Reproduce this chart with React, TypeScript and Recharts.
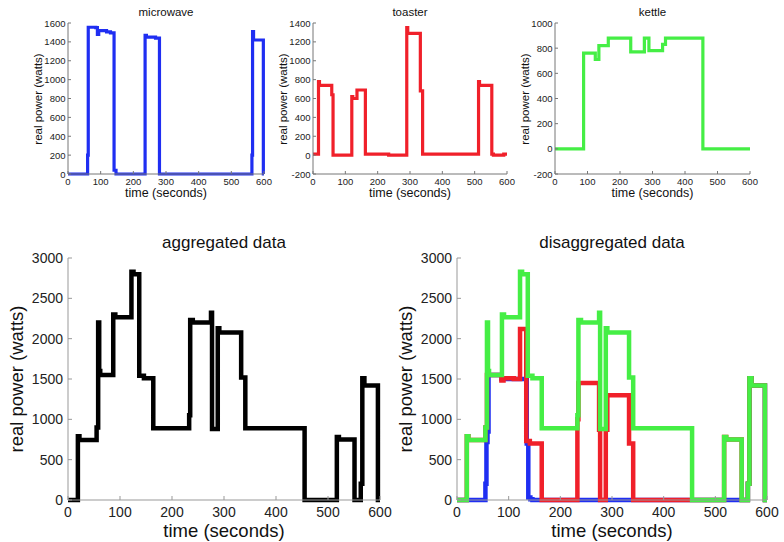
import React from "react";
import { LineChart, Line, XAxis, YAxis } from "recharts";

const timeTicks = [0, 100, 200, 300, 400, 500, 600];

// microwave (top left)
const mwT = [0, 60, 62, 85, 90, 94, 118, 130, 141, 147, 236, 240, 268, 280, 563, 565, 568, 598, 600];
const mwP = [0, 200, 1555, 1550, 1480, 1520, 1505, 1495, 40, 0, 1470, 1450, 1440, 0, 200, 1510, 1420, 0, 0];
const mwTicks = [0, 200, 400, 600, 800, 1000, 1200, 1400, 1600];

// toaster (top middle)
const tsT = [0, 17, 20, 58, 62, 120, 123, 136, 162, 234, 290, 293, 332, 339, 512, 515, 553, 558, 590, 600];
const tsP = [10, 780, 740, 640, 0, 620, 600, 690, 10, 0, 1350, 1290, 680, 10, 780, 740, 10, 0, 10, 10];
const tsTicks = [-200, 0, 200, 400, 600, 800, 1000, 1200, 1400];

// kettle (top right)
const ktT = [0, 88, 124, 135, 164, 233, 275, 289, 331, 340, 455, 600];
const ktP = [0, 760, 710, 820, 880, 770, 880, 780, 830, 880, 0, 0];
const ktTicks = [-200, 0, 200, 400, 600, 800, 1000];

// aggregated total (bottom)
const totT = [0, 19, 22, 55, 58, 60, 62, 87, 91, 122, 126, 137, 146, 164, 233, 235, 240, 275, 277, 288, 291, 333, 341, 455, 517, 521, 551, 563, 566, 570, 596, 600];
const totP = [0, 790, 745, 900, 2200, 1600, 1550, 2300, 2265, 2830, 2800, 1540, 1510, 890, 1050, 2230, 2200, 2320, 880, 2130, 2075, 1520, 890, 0, 780, 750, 0, 200, 1510, 1420, 0, 0];

// disaggregated layers
const blueT = [0, 55, 57, 59, 61, 86, 135, 138, 142, 146, 563, 566, 570, 596, 600];
const blueP = [0, 200, 720, 850, 1550, 1500, 700, 30, 10, 0, 200, 1510, 1420, 0, 0];
const redT = [0, 19, 22, 55, 58, 86, 90, 110, 122, 134, 141, 164, 233, 235, 275, 277, 288, 291, 333, 341, 517, 521, 551, 563, 566, 570, 596, 600];
const redP = [0, 790, 745, 900, 1550, 1480, 1510, 1500, 2120, 730, 700, 0, 1000, 1450, 870, 0, 870, 1300, 700, 0, 780, 750, 0, 200, 1510, 1420, 0, 0];

const bigTicks = [0, 500, 1000, 1500, 2000, 2500, 3000];

const pts = (t: number[], p: number[]) => t.map((v, i) => ({ t: v, p: p[i] }));

const BLUE = "#1f2ef2";
const RED = "#f0202a";
const GREEN = "#45ee45";

const FONT = '"Liberation Sans", Arial, Helvetica, sans-serif';

type Style = {
  tick: number; tickOff: number; yGap: number; tickLen: number;
  title: number; titleY: number; xlab: number; xlabY: number;
  ylab: number; ylabDx: number; stroke: number; axis: string;
};

const small: Style = {
  tick: 9.5, tickOff: 7.5, yGap: 2.5, tickLen: 3,
  title: 11.5, titleY: 12.7, xlab: 12.5, xlabY: 193,
  ylab: 11.5, ylabDx: 29.5, stroke: 3.2, axis: "#777",
};
const big: Style = {
  tick: 14, tickOff: 12, yGap: 5, tickLen: 4,
  title: 17, titleY: 242, xlab: 18.5, xlabY: 530.5,
  ylab: 18.5, ylabDx: 51, stroke: 4.5, axis: "#999",
};

type Series = { data: { t: number; p: number }[]; color: string };

type PanelProps = {
  x: number; y: number; w: number; h: number;
  yDomain: [number, number]; yTicks: number[];
  series: Series[]; title: string; s: Style; box?: boolean;
};

const Panel = ({ x, y, w, h, yDomain, yTicks, series, title, s, box }: PanelProps) => {
  const PL = 50, PR = 18, PT = 8, PB = 30;

  const xTick = (props: any) => (
    <g>
      <line x1={props.x} x2={props.x} y1={props.y} y2={props.y - s.tickLen} stroke={s.axis} />
      <text x={props.x} y={props.y + s.tickOff} textAnchor="middle" dominantBaseline="central" fontSize={s.tick} fill="#222">
        {props.payload.value}
      </text>
    </g>
  );
  const yTick = (props: any) => (
    <g>
      <line x1={props.x} x2={props.x + s.tickLen} y1={props.y} y2={props.y} stroke={s.axis} />
      <text x={props.x - s.yGap} y={props.y} textAnchor="end" dominantBaseline="central" fontSize={s.tick} fill="#222">
        {props.payload.value}
      </text>
    </g>
  );
  const topTick = (props: any) => (
    <line x1={props.x} x2={props.x} y1={props.y} y2={props.y + s.tickLen} stroke={s.axis} />
  );
  const rightTick = (props: any) => (
    <line x1={props.x} x2={props.x - s.tickLen} y1={props.y} y2={props.y} stroke={s.axis} />
  );

  return (
    <>
      <div style={{ position: "absolute", left: x - PL, top: y - PT }}>
        <LineChart width={w + PL + PR} height={h + PT + PB} margin={{ top: PT, right: PR, left: 0, bottom: 0 }}>
          <XAxis dataKey="t" type="number" domain={[0, 600]} ticks={timeTicks} interval={0}
            height={PB} tickLine={false} tickSize={0} tickMargin={0} tick={xTick} axisLine={{ stroke: s.axis }} />
          <YAxis type="number" domain={yDomain} ticks={yTicks} interval={0}
            width={PL} tickLine={false} tickSize={0} tickMargin={0} tick={yTick} axisLine={{ stroke: s.axis }} />
          {box && (
            <XAxis xAxisId="top" orientation="top" dataKey="t" type="number" domain={[0, 600]} ticks={timeTicks}
              interval={0} height={0} tickLine={false} tickSize={0} tickMargin={0} tick={topTick} axisLine={{ stroke: s.axis }} />
          )}
          {box && (
            <YAxis yAxisId="right" orientation="right" type="number" domain={yDomain} ticks={yTicks}
              interval={0} width={0} tickLine={false} tickSize={0} tickMargin={0} tick={rightTick} axisLine={{ stroke: s.axis }} />
          )}
          {series.map((sr, i) => (
            <Line key={i} data={sr.data} dataKey="p" type="stepAfter" stroke={sr.color} strokeWidth={s.stroke}
              dot={false} activeDot={false} isAnimationActive={false} />
          ))}
        </LineChart>
      </div>
      <div style={{ position: "absolute", left: x + w / 2, top: s.titleY, transform: "translate(-50%, -50%)", fontSize: s.title, whiteSpace: "nowrap" }}>
        {title}
      </div>
      <div style={{ position: "absolute", left: x + w / 2, top: s.xlabY, transform: "translate(-50%, -50%)", fontSize: s.xlab, whiteSpace: "nowrap" }}>
        time (seconds)
      </div>
      <div style={{ position: "absolute", left: x - s.ylabDx, top: y + h / 2, transform: "translate(-50%, -50%) rotate(-90deg)", fontSize: s.ylab, whiteSpace: "nowrap" }}>
        real power (watts)
      </div>
    </>
  );
};

export default function App() {
  return (
    <div style={{ position: "absolute", left: 0, top: 0, width: 784, height: 542, overflow: "hidden", background: "#fff", fontFamily: FONT, color: "#111", lineHeight: 1 }}>
      <Panel x={68} y={23} w={196} h={151} yDomain={[0, 1600]} yTicks={mwTicks} title="microwave" s={small} box
        series={[{ data: pts(mwT, mwP), color: BLUE }]} />
      <Panel x={313} y={23} w={194} h={151} yDomain={[-200, 1400]} yTicks={tsTicks} title="toaster" s={small} box
        series={[{ data: pts(tsT, tsP), color: RED }]} />
      <Panel x={555} y={23} w={195} h={151} yDomain={[-200, 1000]} yTicks={ktTicks} title="kettle" s={small} box
        series={[{ data: pts(ktT, ktP), color: GREEN }]} />
      <Panel x={68} y={258} w={312} h={242} yDomain={[0, 3000]} yTicks={bigTicks} title="aggregated data" s={big}
        series={[{ data: pts(totT, totP), color: "#000" }]} />
      <Panel x={457} y={258} w={310} h={242} yDomain={[0, 3000]} yTicks={bigTicks} title="disaggregated data" s={big}
        series={[
          { data: pts(blueT, blueP), color: BLUE },
          { data: pts(redT, redP), color: RED },
          { data: pts(totT, totP), color: GREEN },
        ]} />
    </div>
  );
}
